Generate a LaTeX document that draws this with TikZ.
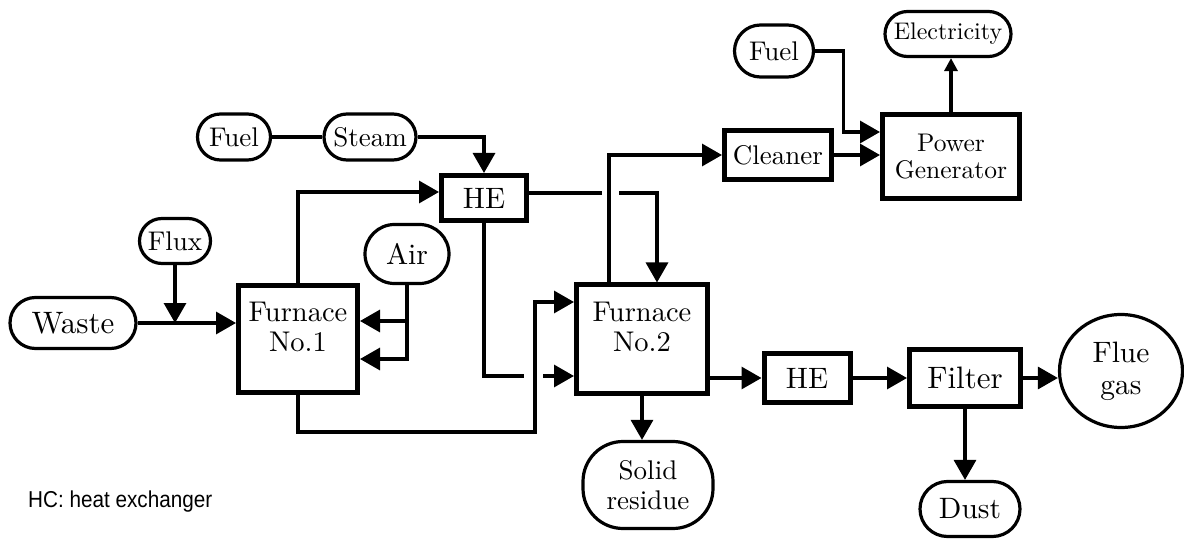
\documentclass[tikz,border=0pt]{standalone}
\usepackage{fontspec}
\setmainfont{lmroman10-regular}[Extension=.otf]
\newfontfamily\notefont[FakeStretch=0.9]{Liberation Sans}
\usetikzlibrary{arrows.meta,shapes.misc,shapes.geometric}

\begin{document}
\begin{tikzpicture}[x=1pt, y=-1pt, >={Triangle[length=20pt,width=22pt]},
  every node/.style={font=\fontsize{27}{30}\selectfont, inner sep=0pt},
  unit/.style={draw, line width=5pt, rectangle},
  term/.style={draw, line width=3.2pt, rounded rectangle},
  flow/.style={line width=3.2pt},
  smalltxt/.style={font=\fontsize{24}{27}\selectfont},
  bigtxt/.style={font=\fontsize{29.5}{32}\selectfont},
  hugetxt/.style={font=\fontsize{31}{34}\selectfont}]
  \useasboundingbox (0,0) rectangle (1184,540);
  % inputs and first furnace
  \node[term, minimum width=73pt, minimum height=46pt] (fuelA) at (234,137) {Fuel};
  \node[term, minimum width=92pt, minimum height=46pt] (steam) at (370,137) {Steam};
  \node[term, minimum width=71pt, minimum height=45pt] (flux) at (175,241) {Flux};
  \node[term, hugetxt, minimum width=126pt, minimum height=51pt] (waste) at (73,323) {Waste};
  \node[term, bigtxt, minimum width=84pt, minimum height=59pt] (air) at (407,254) {Air};
  \node[unit, minimum width=119pt, minimum height=107pt,
    label={[align=center, yshift=12pt, font=\fontsize{28.5}{30}\selectfont]center:Furnace\\No.1}] (furnA) at (298,339) {};
  \node[unit, bigtxt, minimum width=85pt, minimum height=45pt] (heA) at (484,198) {HE};
  % second furnace and gas line
  \node[unit, minimum width=131pt, minimum height=108pt,
    label={[align=center, yshift=12pt, font=\fontsize{28.5}{30}\selectfont]center:Furnace\\No.2}] (furnB) at (642,339) {};
  \node[unit, minimum width=107pt, minimum height=49pt] (cleaner) at (778,155) {Cleaner};
  \node[term, minimum width=79pt, minimum height=52pt] (fuelB) at (774,51) {Fuel};
  \node[unit, align=center, font=\fontsize{25.5}{27}\selectfont, minimum width=137pt, minimum height=84pt] (power) at (951,157) {Power\\Generator};
  \node[term, smalltxt, minimum width=126pt, minimum height=45pt] (elec) at (948,34) {Electricity};
  \node[unit, bigtxt, minimum width=86pt, minimum height=49pt] (heB) at (807,378) {HE};
  \node[unit, hugetxt, minimum width=111pt, minimum height=57pt] (filter) at (965,378) {Filter};
  \node[draw, line width=3.2pt, ellipse, bigtxt, align=center, minimum width=123pt, minimum height=113pt] (flue) at (1121,371) {Flue\\gas};
  \node[term, bigtxt, minimum width=100pt, minimum height=55pt] (dust) at (970,509) {Dust};
  \node[draw, line width=3.2pt, rounded corners=40pt, align=center, minimum width=130pt, minimum height=87pt] (residue) at (648,485) {Solid\\residue};
  \node[anchor=base west, font=\notefont\fontsize{23}{26}\selectfont] (note) at (28,507) {HC: heat exchanger};

  % connectors
  \draw[flow] (fuelA.east) -- (steam.west);
  \draw[flow, ->] (steam.east) -| (heA.north);
  \draw[flow, ->] (flux.south) -- (flux.south |- waste.east);
  \draw[flow, ->] (waste.east) -- (waste.east -| furnA.west);
  \draw[flow, ->] (furnA.north) |- ([yshift=6pt]heA.west);
  \draw[flow, ->] (air.south) |- ([yshift=18pt]furnA.east);
  \draw[flow, ->] (air.south) |- ([yshift=-20pt]furnA.east);
  \coordinate (loopA) at (535,432);
  \draw[flow, ->] (furnA.south) |- (loopA) |- ([yshift=37pt]furnB.west);
  \coordinate (gapA) at (602,193);
  \coordinate (gapB) at (619,193);
  \draw[flow] ([yshift=5pt]heA.east) -- (gapA);
  \draw[flow, ->] (gapB) -| ([xshift=15pt]furnB.north);
  \coordinate (gapC) at (524,376);
  \coordinate (gapD) at (543,376);
  \draw[flow] (heA.south) |- (gapC);
  \draw[flow, ->] (gapD) -- (gapD -| furnB.west);
  \draw[flow, ->] ([xshift=-33pt]furnB.north) |- (cleaner.west);
  \draw[flow, ->] (cleaner.east) -- (cleaner.east -| power.west);
  \draw[flow, ->] (fuelB.east) -- ++(28,0) |- ([yshift=25pt]power.west);
  \draw[flow, -{Triangle[length=13pt,width=13pt]}] (power.north) -- (power.north |- elec.south);
  \draw[flow, ->] (furnB.east |- heB.west) -- (heB.west);
  \draw[flow, ->] (heB.east) -- (filter.west);
  \draw[flow, ->] (filter.east) -- (filter.east -| flue.west);
  \draw[flow, ->] (filter.south) -- (filter.south |- dust.north);
  \draw[flow, ->] (furnB.south) -- (furnB.south |- residue.north);
\end{tikzpicture}
\end{document}
